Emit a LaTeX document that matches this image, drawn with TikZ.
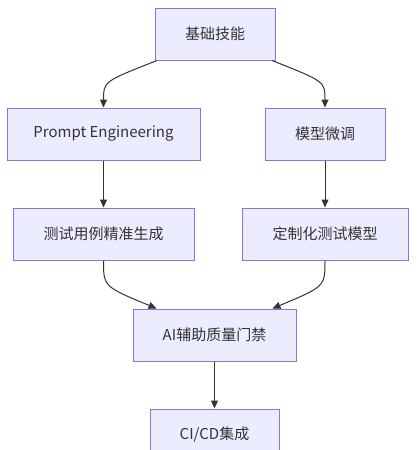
\documentclass[tikz,border=0pt]{standalone}
\usepackage{fontspec}
\setmainfont{Noto Sans CJK SC}
\usetikzlibrary{arrows.meta}
\definecolor{boxfill}{HTML}{ECECFF}
\definecolor{boxline}{HTML}{9370DB}
\definecolor{ink}{HTML}{333333}
\tikzset{box/.style={draw=boxline,fill=boxfill,line width=1pt,minimum height=52pt,inner sep=0pt,text=ink,font=\fontsize{15}{18}\selectfont},
 edge/.style={draw=ink,line width=1pt,-{Triangle[length=8pt,width=7pt]}}}
\begin{document}
\begin{tikzpicture}[x=1pt,y=-1pt]
 \useasboundingbox (0,0) rectangle (416,450);
 \node[box,minimum width=120pt] (skill) at (215,34) {基础技能};
 \node[box,minimum width=193pt] (prompt) at (103.5,134) {Prompt Engineering};
 \node[box,minimum width=120pt] (tune) at (325,134) {模型微调};
 \node[box,minimum width=181pt] (gen) at (103.5,234) {测试用例精准生成};
 \node[box,minimum width=166pt] (model) at (325,234) {定制化测试模型};
 \node[box,minimum width=163pt] (gate) at (214.5,335) {AI辅助质量门禁};
 \node[box,minimum width=129pt] (cicd) at (214.5,435) {CI/CD集成};
 \draw[edge] ([xshift=-58pt]skill.south) .. controls ([yshift=26pt]prompt.north) .. (prompt.north);
 \draw[edge] ([xshift=57pt]skill.south) .. controls ([yshift=26pt]tune.north) .. (tune.north);
 \draw[edge] (prompt) -- (gen); \draw[edge] (tune) -- (model);
 \draw[edge] (gen.south) .. controls ([yshift=-26pt]gen.south) .. ([xshift=-58pt]gate.north);
 \draw[edge] (model.south) .. controls ([yshift=-26pt]model.south) .. ([xshift=58pt]gate.north);
 \draw[edge] (gate) -- (cicd);
\end{tikzpicture}
\end{document}
